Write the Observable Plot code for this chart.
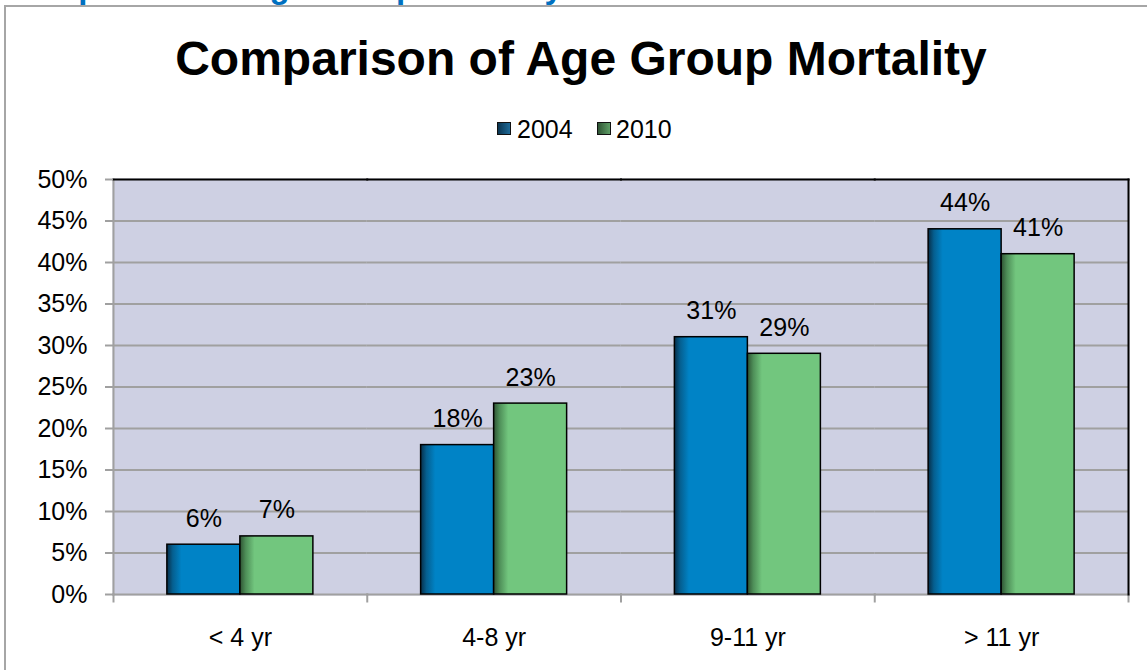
<!DOCTYPE html>
<html>
<head>
<meta charset="utf-8">
<script src="https://cdn.jsdelivr.net/npm/d3@7"></script>
<script src="https://cdn.jsdelivr.net/npm/@observablehq/plot@0.6"></script>
<style>
  body { margin: 0; background: #fff; font-family: "Liberation Sans", Arial, sans-serif; }
  #wrap { position: relative; width: 1147px; height: 670px; overflow: hidden; background: #fff; }
  #slide { position: absolute; left: 5px; top: -30px; font: bold 33px/33px "Liberation Sans", Arial, sans-serif; color: #0070C0; white-space: nowrap; }
  #border { position: absolute; left: 4px; top: 5px; width: 1300px; height: 900px; border-left: 2px solid #A6A6A6; border-top: 2px solid #A6A6A6; background: #fff; }
  #title { position: absolute; left: 0; width: 1162px; top: 31px; text-align: center; font: bold 48px/56px "Liberation Sans", Arial, sans-serif; color: #000; white-space: nowrap; }
  .sw { position: absolute; top: 122px; width: 12px; height: 11px; border: 1px solid #111; }
  .lt { position: absolute; top: 117px; font: 25px/25px "Liberation Sans", Arial, sans-serif; color: #000; }
  #chart { position: absolute; left: 0; top: 150px; }
</style>
</head>
<body>
<svg width="0" height="0" style="position:absolute">
  <defs>
    <linearGradient id="g2004" x1="0" x2="1" y1="0" y2="0">
      <stop offset="0" stop-color="#082E48"/>
      <stop offset="0.08" stop-color="#055F90"/>
      <stop offset="0.2" stop-color="#0083C6"/>
      <stop offset="1" stop-color="#0083C6"/>
    </linearGradient>
    <linearGradient id="g2010" x1="0" x2="1" y1="0" y2="0">
      <stop offset="0" stop-color="#2E5233"/>
      <stop offset="0.08" stop-color="#4E8E58"/>
      <stop offset="0.2" stop-color="#72C67E"/>
      <stop offset="1" stop-color="#72C67E"/>
    </linearGradient>
  </defs>
</svg>
<div id="wrap">
  <div id="slide">Comparison of Age Group Mortality</div>
  <div id="border"></div>
  <div id="title">Comparison of Age Group Mortality</div>
  <div class="sw" style="left:497px;background:linear-gradient(90deg,#0A3450,#1E6A98);"></div>
  <div class="lt" style="left:517px;">2004</div>
  <div class="sw" style="left:597px;background:linear-gradient(90deg,#2F5434,#5E9E66);"></div>
  <div class="lt" style="left:616px;">2010</div>
  <div id="chart"></div>
</div>
<script>
const categories = ["< 4 yr", "4-8 yr", "9-11 yr", "> 11 yr"];
const years = ["2004", "2010"];
const values2004 = [6, 18, 31, 44];
const values2010 = [7, 23, 29, 41];
const yTicks = [0, 5, 10, 15, 20, 25, 30, 35, 40, 45, 50];

const data = [];
categories.forEach((c, i) => {
  data.push({cat: c, year: years[0], value: values2004[i]});
  data.push({cat: c, year: years[1], value: values2010[i]});
});

const H = 520, MT = 29, MB = 76;
const innerH = H - MT - MB;
const bg = "#CED0E3";

const plot = Plot.plot({
  width: 1147,
  height: H,
  marginTop: MT,
  marginBottom: MB,
  marginLeft: 113,
  marginRight: 19,
  style: {fontFamily: "'Liberation Sans', Arial, sans-serif", color: "#000", background: "transparent", overflow: "visible"},
  fx: {domain: categories, padding: 0, round: false, axis: null},
  x: {domain: years, paddingInner: 0, paddingOuter: 0.738, round: false, axis: null},
  y: {domain: [0, 50], axis: null},
  marks: [
    Plot.frame({fill: bg, stroke: bg, strokeWidth: 2}),
    Plot.ruleY(yTicks.filter(d => d > 0 && d < 50), {stroke: "#A0A0A0", strokeWidth: 2}),
    Plot.frame({anchor: "bottom", stroke: "#A0A0A0", strokeWidth: 2}),
    Plot.frame({anchor: "left", facetAnchor: "left", stroke: "#A0A0A0", strokeWidth: 2}),
    Plot.frame({anchor: "left", stroke: "#A0A0A0", strokeWidth: 2, insetTop: innerH, insetBottom: -7}),
    Plot.frame({anchor: "right", facetAnchor: "right", stroke: "#A0A0A0", strokeWidth: 2, insetTop: innerH, insetBottom: -7}),
    Plot.barY(data, {filter: d => d.year === years[0], fx: "cat", x: "year", y: "value", fill: "url(#g2004)", stroke: "#000", strokeWidth: 1.5}),
    Plot.barY(data, {filter: d => d.year === years[1], fx: "cat", x: "year", y: "value", fill: "url(#g2010)", stroke: "#000", strokeWidth: 1.5}),
    Plot.frame({anchor: "top", stroke: "#000", strokeWidth: 2}),
    Plot.frame({anchor: "right", facetAnchor: "right", stroke: "#000", strokeWidth: 2}),
    Plot.text(data, {fx: "cat", x: "year", y: "value", text: d => d.value + "%", dy: -18, lineAnchor: "bottom", fontSize: 25, fill: "#000"}),
    Plot.axisY({ticks: yTicks, tickFormat: d => d + "%", tickSize: 8, tickPadding: 18, fontSize: 25, stroke: "#A0A0A0", strokeWidth: 2, label: null}),
    Plot.axisFx({anchor: "bottom", tickSize: 0, tickPadding: 34, fontSize: 25, label: null})
  ]
});
document.getElementById("chart").appendChild(plot);
</script>
</body>
</html>
